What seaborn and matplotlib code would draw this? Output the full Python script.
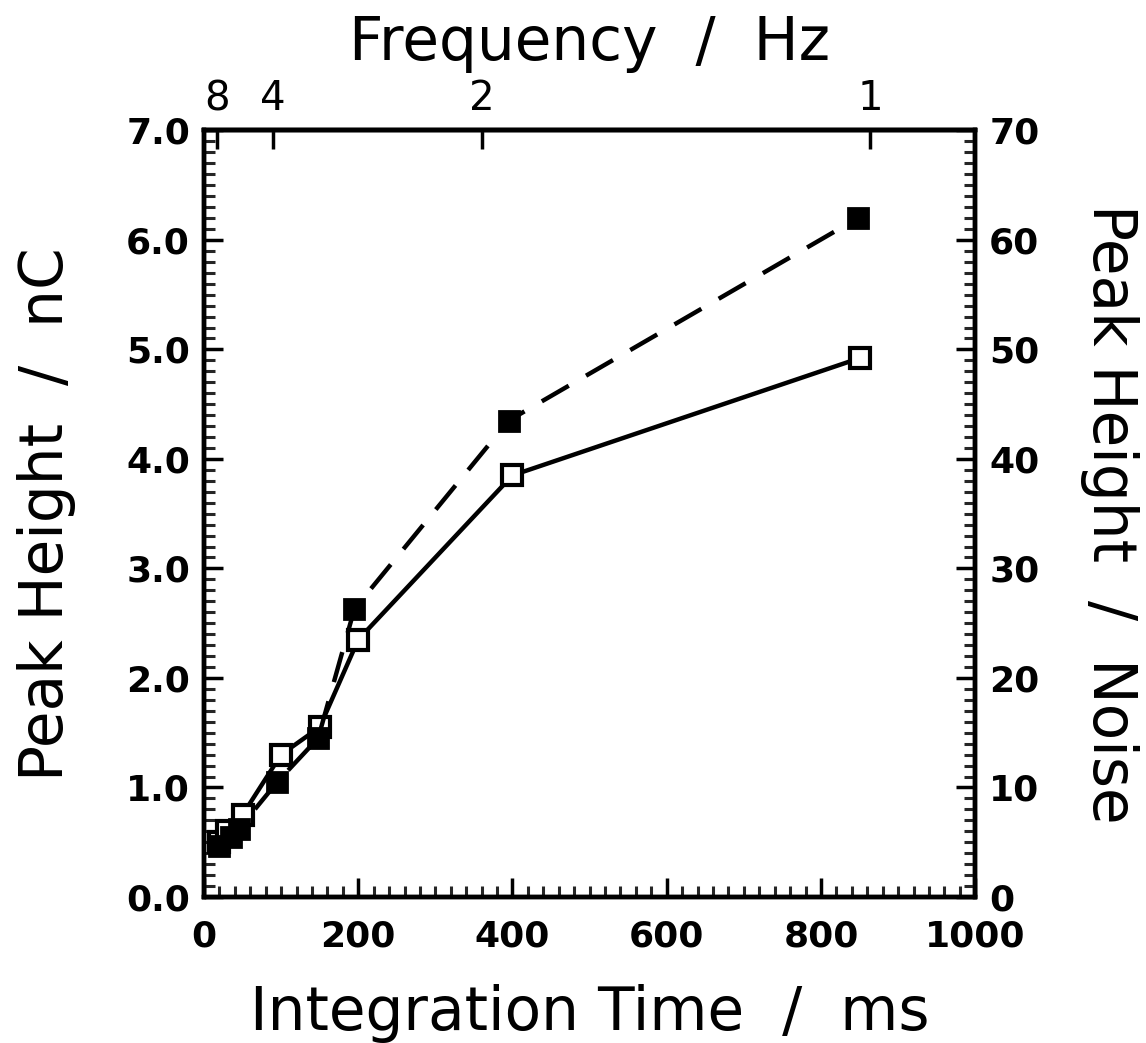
import matplotlib
matplotlib.use("Agg")
import matplotlib.pyplot as plt
import seaborn as sns
import pandas as pd
from matplotlib.ticker import MultipleLocator, FixedLocator, FixedFormatter

# Peak height (nC) vs integration time, open squares / solid line
time_charge = [20, 30, 50, 100, 150, 200, 400, 850]
peak_charge = [0.50, 0.60, 0.75, 1.30, 1.55, 2.35, 3.85, 4.92]

# Peak height / noise vs integration time, filled squares / dashed line
time_snr = [20, 35, 45, 95, 148, 195, 395, 848]
peak_snr = [4.7, 5.5, 6.2, 10.5, 14.5, 26.3, 43.5, 62.0]

# Frequency scale on the top axis (tick positions in ms, labels in Hz)
freq_positions = [17, 89, 360, 864]
freq_labels = ["8", "4", "2", "1"]

sns.set_theme(style="ticks")
plt.rcParams["font.family"] = ["DejaVu Sans"]
plt.rcParams["text.color"] = "black"
plt.rcParams["axes.labelcolor"] = "black"

fig = plt.figure(figsize=(11.46, 10.43), dpi=100)
ax = fig.add_axes([0.178, 0.140, 0.673, 0.735])
ax2 = ax.twinx()

df_c = pd.DataFrame({"t": time_charge, "h": peak_charge})
df_s = pd.DataFrame({"t": time_snr, "h": peak_snr})

sns.lineplot(data=df_c, x="t", y="h", ax=ax, color="black", lw=3.2,
             marker="s", markersize=14, markerfacecolor="white",
             markeredgecolor="black", markeredgewidth=3, sort=False, zorder=3)
sns.lineplot(data=df_s, x="t", y="h", ax=ax2, color="black", lw=3.2,
             marker="s", markersize=14, markerfacecolor="black",
             markeredgecolor="black", markeredgewidth=2, sort=False, zorder=3)
for line in ax2.get_lines():
    line.set_dashes([7, 4.5])

ax.set_xlim(0, 1000)
ax.set_ylim(0, 7.0)
ax2.set_ylim(0, 70)

ax.xaxis.set_minor_locator(MultipleLocator(20))
ax.yaxis.set_minor_locator(MultipleLocator(0.1))
ax2.yaxis.set_minor_locator(MultipleLocator(1))

for a in (ax, ax2):
    for s in a.spines.values():
        s.set_linewidth(3.2)
        s.set_color("black")
    a.tick_params(which="major", direction="in", length=14, width=2.5,
                  labelsize=26, pad=10, colors="black")
    a.tick_params(which="minor", direction="in", length=8, width=2.2)

ax.tick_params(axis="x", pad=16)
ax.set_yticks([0, 1, 2, 3, 4, 5, 6, 7])
ax.set_yticklabels([f"{v:.1f}" for v in range(8)], fontweight="bold")
ax2.set_yticks(range(0, 80, 10))
ax2.set_yticklabels([str(v) for v in range(0, 80, 10)], fontweight="bold")
ax.set_xticks(range(0, 1200, 200))
ax.set_xticklabels([str(v) for v in range(0, 1200, 200)], fontweight="bold")

# Frequency axis along the top
top = ax.secondary_xaxis("top")
top.xaxis.set_major_locator(FixedLocator(freq_positions))
top.xaxis.set_major_formatter(FixedFormatter(freq_labels))
top.tick_params(direction="in", length=14, width=2.5, labelsize=29, pad=8,
                colors="black")
top.spines["top"].set_linewidth(3.2)

label_font = dict(fontsize=43, color="black")
ax.set_xlabel("Integration Time  /  ms", labelpad=22, **label_font)
ax.set_ylabel("Peak Height  /  nC", labelpad=36, **label_font)
ax2.set_ylabel("Peak Height  /  Noise", rotation=270, labelpad=72, **label_font)
top.set_xlabel("Frequency  /  Hz", labelpad=14, **label_font)

fig.savefig("out.png", dpi=100, facecolor="white")
